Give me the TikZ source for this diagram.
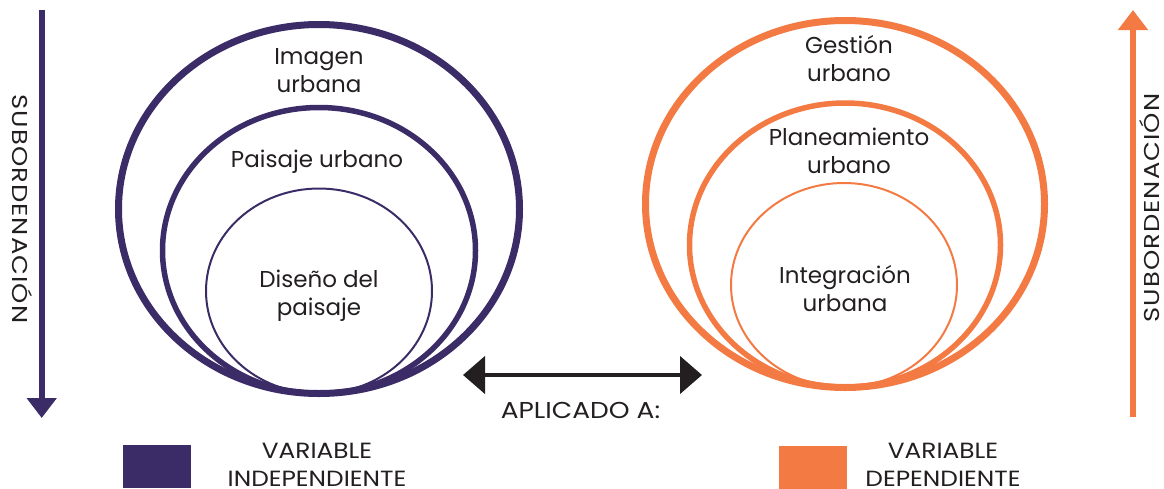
\documentclass[tikz,border=0pt]{standalone}
\usepackage{fontspec}
\setmainfont{Poppins}
\usetikzlibrary{arrows.meta}
\definecolor{purp}{HTML}{3B2C68}
\definecolor{orng}{HTML}{F37A43}
\definecolor{ink}{HTML}{231F20}
\tikzset{
  lbl/.style={text=ink, align=center, inner sep=0pt, font=\fontsize{23}{28}\selectfont},
  leg/.style={text=ink, align=center, inner sep=0pt, font=\fontsize{22}{28}\selectfont\addfontfeature{FakeStretch=1.13}},
  apl/.style={text=ink, inner sep=0pt, font=\fontsize{23}{28}\selectfont\addfontfeature{FakeStretch=1.15}},
  side/.style={text=ink, inner sep=0pt, font=\fontsize{21.5}{24}\selectfont\addfontfeature{FakeStretch=1.2,LetterSpace=5}},
  ringA/.style={line width=7pt},
  ringB/.style={line width=5.5pt},
  ringC/.style={line width=2pt},
  vbar/.style={line width=6pt, -{Triangle[length=20pt,width=29pt]}},
  dbl/.style={ink, line width=4.5pt, {Triangle[length=22pt,width=37pt]}-{Triangle[length=22pt,width=37pt]}},
  swatch/.style={inner sep=0pt, minimum width=68pt, minimum height=43pt}
}
\begin{document}
\begin{tikzpicture}[x=1pt,y=-1pt]
\useasboundingbox (0,0) rectangle (1164,488);
% left set (independent)
\draw[purp,ringA] (319,209) ellipse [x radius=200.5, y radius=184.5];
\draw[purp,ringB] (319,250.5) ellipse [x radius=156.5, y radius=143];
\draw[purp,ringC] (319,291) ellipse [x radius=113, y radius=102.5];
\node[lbl] (img) at (319,71) {Imagen\\urbana};
\node[lbl,anchor=base] (pai) at (317,167) {Paisaje urbano};
\node[lbl] (dis) at (319,296) {Diseño del\\paisaje};
% right set (dependent)
\draw[orng,ringA] (845,204) ellipse [x radius=199.5, y radius=183.5];
\draw[orng,ringB] (845,245) ellipse [x radius=155.5, y radius=142];
\draw[orng,ringC] (844,285) ellipse [x radius=113, y radius=102];
\node[lbl] (ges) at (849,58.5) {Gestión\\urbano};
\node[lbl] (pla) at (849,151) {Planeamiento\\urbano};
\node[lbl] (int) at (845,288.5) {Integración\\urbana};
% side arrows
\coordinate (ltop) at (41.7,10);
\coordinate (lbot) at (41.7,418);
\draw[purp,vbar] (ltop) -- (lbot);
\node[side,rotate=-90,anchor=base] (lsub) at (12.5,209) {SUBORDENACIÓN};
\coordinate (rbot) at (1133,417);
\coordinate (rtop) at (1133,10);
\draw[orng,vbar] (rbot) -- (rtop);
\node[side,rotate=90,anchor=base] (rsub) at (1159.5,208) {SUBORDENACIÓN};
% double arrow
\coordinate (dl) at (463,375);
\coordinate (dr) at (702,375);
\draw[dbl] (dl) -- (dr);
\node[apl,anchor=base] (aplic) at (580.5,418) {APLICADO A:};
% legend
\node[swatch,fill=purp] (sw1) at (157,466.5) {};
\node[leg] (vi) at (317,465) {VARIABLE\\INDEPENDIENTE};
\node[swatch,fill=orng] (sw2) at (812.5,467.5) {};
\node[leg] (vd) at (943,465) {VARIABLE\\DEPENDIENTE};
\end{tikzpicture}
\end{document}
